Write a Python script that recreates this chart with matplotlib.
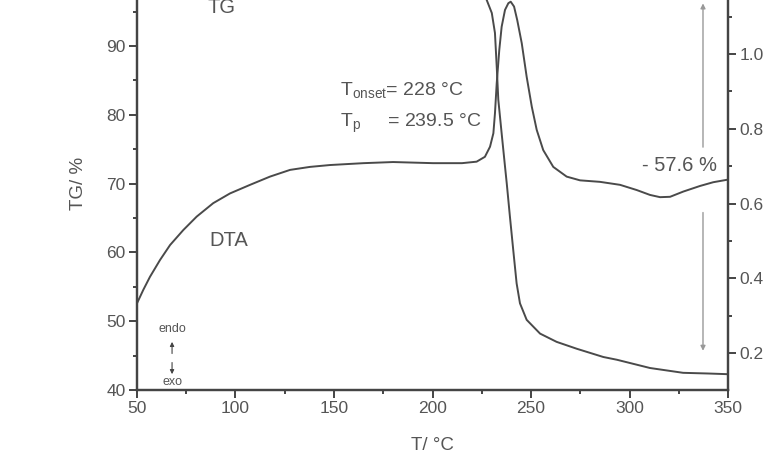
import numpy as np
import matplotlib
matplotlib.use("Agg")
import matplotlib.pyplot as plt
from matplotlib.ticker import MultipleLocator

plt.rcParams['font.family'] = ['Liberation Sans', 'DejaVu Sans']
plt.rcParams['mathtext.default'] = 'regular'

# TG curve (left axis, %)
tg_temp = [50, 150, 200, 215, 222, 225, 227.5, 230.1, 231.7, 232.6, 233.4, 235.1,
           236.8, 237.7, 238.5, 239.3, 241.0, 242.7, 244.4, 247.8, 254.6, 263.0,
           273.2, 286.7, 293.6, 310.4, 327.2, 340, 350]
tg_mass = [100.6, 100.4, 100.1, 99.6, 98.9, 98.0, 96.7, 94.8, 91.9, 87.0, 82.2, 77.3,
           72.5, 70.0, 67.6, 65.2, 60.3, 55.5, 52.6, 50.2, 48.2, 47.0,
           46.0, 44.8, 44.4, 43.2, 42.5, 42.4, 42.3]

# DTA curve (right axis)
dta_temp = [50, 53.2, 56.6, 61.7, 66.8, 73.5, 80.3, 88.7, 97.2, 107.4, 117.5, 127.7,
            137.8, 148.0, 165, 180.0, 200.3, 215, 222.4, 226.6, 229.2, 230.9, 231.7,
            232.6, 233.9, 235.1, 236.8, 238.5, 239.7, 241.4, 243.0, 245.3, 247.8,
            250.4, 252.9, 256.2, 261.3, 264.7, 268.1, 274.9, 285.0, 295.2, 303.7,
            310.4, 315.5, 320.6, 327.3, 335.8, 342.5, 350]
dta_val = [0.333, 0.369, 0.404, 0.449, 0.489, 0.529, 0.565, 0.601, 0.627, 0.650, 0.672, 0.690,
           0.698, 0.703, 0.708, 0.711, 0.708, 0.708, 0.712, 0.725, 0.752, 0.788, 0.841,
           0.922, 1.011, 1.073, 1.118, 1.136, 1.140, 1.127, 1.091, 1.029, 0.939,
           0.859, 0.797, 0.743, 0.698, 0.685, 0.672, 0.662, 0.658, 0.650, 0.636,
           0.623, 0.617, 0.618, 0.632, 0.647, 0.657, 0.664]

line_col = '#4a4a4a'
text_col = '#555555'

fig = plt.figure(figsize=(7.64, 4.62), dpi=100)
# axes top runs past the figure edge, like the cropped scan
ax = fig.add_axes([0.1793, 0.1558, 0.7736, 0.8935])
ax2 = ax.twinx()

ax.plot(tg_temp, tg_mass, color=line_col, linewidth=1.4)
ax2.plot(dta_temp, dta_val, color=line_col, linewidth=1.4)

ax.set_xlim(50, 350)
ax.set_ylim(40, 100)
ax2.set_ylim(0.101, 1.2055)

ax.xaxis.set_major_locator(MultipleLocator(50))
ax.xaxis.set_minor_locator(MultipleLocator(25))
ax.yaxis.set_minor_locator(MultipleLocator(5))
ax2.yaxis.set_minor_locator(MultipleLocator(0.1))
ax.set_yticks([40, 50, 60, 70, 80, 90])
ax2.set_yticks([0.2, 0.4, 0.6, 0.8, 1.0])
ax2.set_yticklabels(['0.2', '0.4', '0.6', '0.8', '1.0'])

for a in (ax, ax2):
    a.spines['top'].set_visible(False)
    for s in a.spines.values():
        s.set_linewidth(1.6)
        s.set_color('#444444')
    a.tick_params(which='major', direction='out', length=6, width=1.4, pad=2,
                  colors='#444444', labelcolor=text_col, labelsize=12.5)
    a.tick_params(which='minor', direction='out', length=3, width=1.4,
                  colors='#444444')

ax.set_xlabel('T/ °C', fontsize=13.5, color=text_col, labelpad=15)
ax.set_ylabel('TG/ %', fontsize=13.5, color=text_col, labelpad=14)

# labels on the plot
ax.text(93.1, 95.6, 'TG', fontsize=14.5, color=text_col, ha='center', va='center')
ax.text(96.7, 61.8, 'DTA', fontsize=14.5, color=text_col, ha='center', va='center')
ax.text(153, 83.6, 'T$_{onset}$= 228 °C', fontsize=14, color=text_col, va='center')
ax.text(153, 78.8, 'T$_{p}$     = 239.5 °C', fontsize=14, color=text_col, va='center')

# mass loss arrows
ax.annotate('', xy=(337.3, 96.6), xytext=(337.3, 74.9),
            arrowprops=dict(arrowstyle='-|>', color='#999999', lw=1.0,
                            mutation_scale=7))
ax.annotate('', xy=(337.3, 45.3), xytext=(337.3, 66.2),
            arrowprops=dict(arrowstyle='-|>', color='#999999', lw=1.0,
                            mutation_scale=7))
ax.text(325.6, 72.7, '- 57.6 %', fontsize=14.5, color=text_col, ha='center', va='center')

# endo / exo marker
ax.text(67.8, 48.8, 'endo', fontsize=9, color=text_col, ha='center', va='center')
ax.annotate('', xy=(67.8, 47.4), xytext=(67.8, 44.9),
            arrowprops=dict(arrowstyle='-|>', color='#444444', lw=0.8,
                            mutation_scale=6))
ax.annotate('', xy=(67.8, 41.9), xytext=(67.8, 44.4),
            arrowprops=dict(arrowstyle='-|>', color='#444444', lw=0.8,
                            mutation_scale=6))
ax.text(67.8, 41.2, 'exo', fontsize=9, color=text_col, ha='center', va='center')

fig.savefig('out.png', dpi=100)
